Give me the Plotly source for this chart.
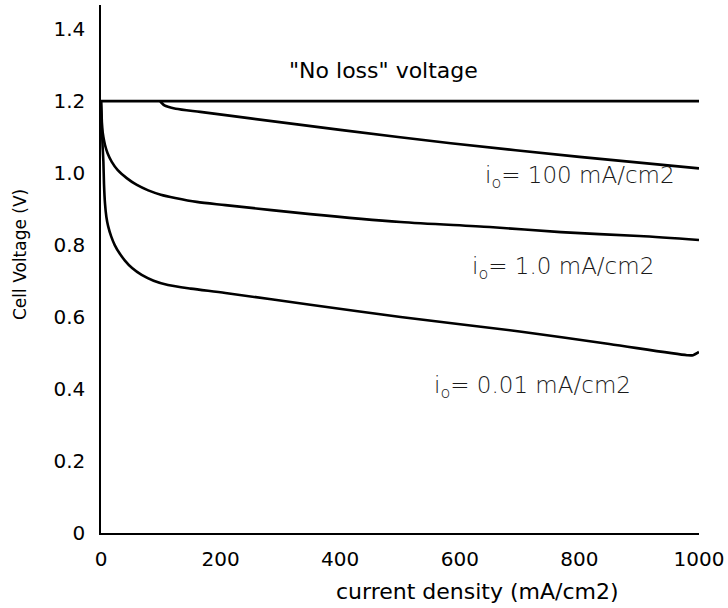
import plotly.graph_objects as go

# Current density (mA/cm2) and cell voltage (V)
no_loss_x = [0, 1000]
no_loss_v = [1.2, 1.2]

i100_x = [99, 102, 106, 112, 125, 166, 250, 400, 585, 800, 1000]
i100_v = [1.2, 1.194, 1.188, 1.184, 1.179, 1.17, 1.152, 1.12, 1.083, 1.045, 1.013]

i1_x = [0, 1, 2, 4, 6.7, 11, 18, 28, 43, 60, 79, 100, 124, 160, 208, 350, 501, 650, 769, 900, 1000]
i1_v = [1.2, 1.16, 1.125, 1.1, 1.078, 1.055, 1.031, 1.008, 0.986, 0.967, 0.952, 0.94, 0.931, 0.92, 0.911, 0.886, 0.864, 0.85, 0.836, 0.825, 0.814]

i001_x = [0, 1, 2.5, 4, 5, 6.7, 9, 12, 17, 23, 31, 40, 52, 68, 88, 112, 150, 208, 350, 501, 700, 850, 980, 990, 1000]
i001_v = [1.2, 1.15, 1.08, 1.031, 0.97, 0.915, 0.878, 0.852, 0.824, 0.8, 0.777, 0.757, 0.736, 0.717, 0.701, 0.689, 0.679, 0.667, 0.634, 0.6, 0.56, 0.525, 0.494, 0.494, 0.503]

x_ticks = [0, 200, 400, 600, 800, 1000]
y_ticks = [0, 0.2, 0.4, 0.6, 0.8, 1.0, 1.2, 1.4]
y_tick_text = ["0", "0.2", "0.4", "0.6", "0.8", "1.0", "1.2", "1.4"]

fig = go.Figure()
fig.add_trace(go.Scatter(x=no_loss_x, y=no_loss_v, mode="lines",
                         line=dict(color="black", width=2.6), showlegend=False))
for xs, vs in [(i100_x, i100_v), (i1_x, i1_v), (i001_x, i001_v)]:
    fig.add_trace(go.Scatter(x=xs, y=vs, mode="lines",
                             line=dict(color="black", width=2.6, shape="spline", smoothing=0.8),
                             showlegend=False))

FAM = "DejaVu Sans, Arial, sans-serif"
tickfont = dict(family=FAM, size=20, color="black")
labfont = dict(family=FAM, size=23, color="#1a1a1a", weight=200)

fig.add_annotation(x=473, y=1.285, text="\"No loss\" voltage", showarrow=False,
                   font=dict(family=FAM, size=22, color="black"))
fig.add_annotation(x=801, y=0.989, text="i<sub>o</sub>= 100 mA/cm2", showarrow=False, font=labfont)
fig.add_annotation(x=773, y=0.736, text="i<sub>o</sub>= 1.0 mA/cm2", showarrow=False, font=labfont)
fig.add_annotation(x=722, y=0.406, text="i<sub>o</sub>= 0.01 mA/cm2", showarrow=False, font=labfont)

fig.add_annotation(xref="paper", yref="paper", x=(477 - 101) / 598, y=-(591 - 533) / 528,
                   xanchor="center", yanchor="middle",
                   text="current density (mA/cm2)", showarrow=False,
                   font=dict(family=FAM, size=22, color="black"))
fig.add_annotation(xref="paper", yref="paper", x=-(101 - 20) / 598, y=(533 - 255) / 528,
                   xanchor="center", yanchor="middle",
                   text="Cell Voltage (V)", textangle=-90, showarrow=False,
                   font=dict(family=FAM, size=17, color="black"))

fig.update_layout(
    width=728, height=608,
    margin=dict(l=101, r=29, t=5, b=75),
    paper_bgcolor="white", plot_bgcolor="white",
    xaxis=dict(range=[0, 1000], tickvals=x_ticks, showgrid=False, zeroline=False,
               showline=True, linecolor="black", linewidth=1.5, ticks="",
               tickfont=tickfont, ticklabelstandoff=7),
    yaxis=dict(range=[0, 1.467], tickvals=y_ticks, ticktext=y_tick_text, showgrid=False,
               zeroline=False, showline=True, linecolor="black", linewidth=1.5, ticks="",
               tickfont=tickfont, ticklabelstandoff=10),
)

fig.write_html("out.html", config={"displayModeBar": False},
               post_script="document.body.style.margin='0';")
